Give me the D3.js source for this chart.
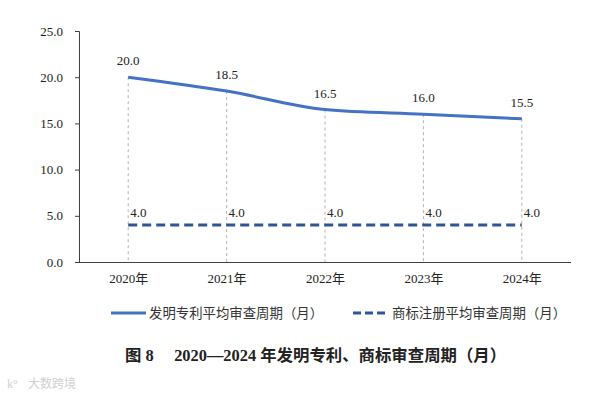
<!DOCTYPE html>
<html><head><meta charset="utf-8">
<script src="https://cdn.jsdelivr.net/npm/d3@7"></script>
<style>
body{margin:0;background:#fff;}
svg{display:block;}
</style>
</head><body>
<svg id="c" width="616" height="396"></svg>
<script>
const years = ["2020年","2021年","2022年","2023年","2024年"];
const patentValues = [20.0, 18.5, 16.5, 16.0, 15.5];
const trademarkValues = [4.0, 4.0, 4.0, 4.0, 4.0];
const yTicks = [0, 5, 10, 15, 20, 25];
const seriesNames = ["发明专利平均审查周期（月）","商标注册平均审查周期（月）"];
const titleText = "图 8\u2003 2020—2024 年发明专利、商标审查周期（月）";
const watermark = "大数跨境";

(function(){
const svg = d3.select("#c");
const serif = "'Liberation Serif','Times New Roman','Noto Sans CJK SC',serif";
const cjk = "'Noto Sans CJK SC','Liberation Serif',sans-serif";
const mL = 79, mR = 571, mT = 31, mB = 262;
const x = d3.scalePoint().domain(years).range([mL, mR]).padding(0.5);
const y = d3.scaleLinear().domain([0, 25]).range([mB, mT]);

// drop lines
svg.append("g").selectAll("line").data(years).join("line")
  .attr("x1", d => x(d)).attr("x2", d => x(d))
  .attr("y1", (d,i) => y(patentValues[i])).attr("y2", mB)
  .attr("stroke", "#b4b4b4").attr("stroke-width", 1).attr("stroke-dasharray", "3,3");

// y axis
const ya = svg.append("g").attr("transform", `translate(${mL},0)`)
  .call(d3.axisLeft(y).tickValues(yTicks).tickSize(4).tickFormat(d3.format(".1f")));
ya.selectAll("path,line").attr("stroke", "#404040");
ya.selectAll("text").attr("font-family", serif).attr("font-size", 13).attr("fill", "#222").attr("x", -16);

// x axis
const xa = svg.append("g").attr("transform", `translate(0,${mB})`)
  .call(d3.axisBottom(x).tickSize(0).tickSizeOuter(0));
xa.select("path").attr("d", `M${mL},0.5H${mR}`).attr("stroke", "#404040");
xa.selectAll("text").attr("font-family", serif).attr("font-size", 13).attr("fill", "#222").attr("dy", "0").attr("y", 21);

// lines
const line = d3.line().x((d,i) => x(years[i])).y(d => y(d)).curve(d3.curveMonotoneX);
svg.append("path").datum(patentValues).attr("d", line)
  .attr("fill", "none").attr("stroke", "#4472C4").attr("stroke-width", 3);
svg.append("path").datum(trademarkValues).attr("d", d3.line().x((d,i) => x(years[i])).y(d => y(d)))
  .attr("fill", "none").attr("stroke", "#2F5597").attr("stroke-width", 3).attr("stroke-dasharray", "9,5");

// labels
svg.append("g").selectAll("text").data(patentValues).join("text")
  .attr("x", (d,i) => x(years[i])).attr("y", d => y(d) - 12)
  .attr("text-anchor", "middle").attr("font-family", serif).attr("font-size", 13).attr("fill", "#222")
  .text(d => d3.format(".1f")(d));
svg.append("g").selectAll("text").data(trademarkValues).join("text")
  .attr("x", (d,i) => x(years[i]) + 2).attr("y", d => y(d) - 8)
  .attr("text-anchor", "start").attr("font-family", serif).attr("font-size", 13).attr("fill", "#222")
  .text(d => d3.format(".1f")(d));

// legend
const lg = svg.append("g");
lg.append("line").attr("x1", 111).attr("x2", 146).attr("y1", 313).attr("y2", 313)
  .attr("stroke", "#4472C4").attr("stroke-width", 3);
lg.append("text").attr("x", 149).attr("y", 318).attr("font-family", cjk).attr("font-size", 13.4).attr("fill", "#333").text(seriesNames[0]);
lg.append("line").attr("x1", 353).attr("x2", 386).attr("y1", 313).attr("y2", 313)
  .attr("stroke", "#2F5597").attr("stroke-width", 3).attr("stroke-dasharray", "8,4");
lg.append("text").attr("x", 392).attr("y", 318).attr("font-family", cjk).attr("font-size", 13.4).attr("fill", "#333").text(seriesNames[1]);

// title
svg.append("text").attr("x", 125).attr("y", 361)
  .attr("font-family", serif).attr("font-size", 16.4).attr("font-weight", "bold").attr("fill", "#222")
  .text(titleText);

// watermark
svg.append("text").attr("x", 28).attr("y", 388).attr("font-family", cjk).attr("font-size", 12)
  .attr("fill", "#d0d0d0").text(watermark);
svg.append("text").attr("x", 7).attr("y", 388).attr("font-family", serif).attr("font-size", 12)
  .attr("fill", "#d0d0d0").text("k°");
})();
</script>
</body></html>
